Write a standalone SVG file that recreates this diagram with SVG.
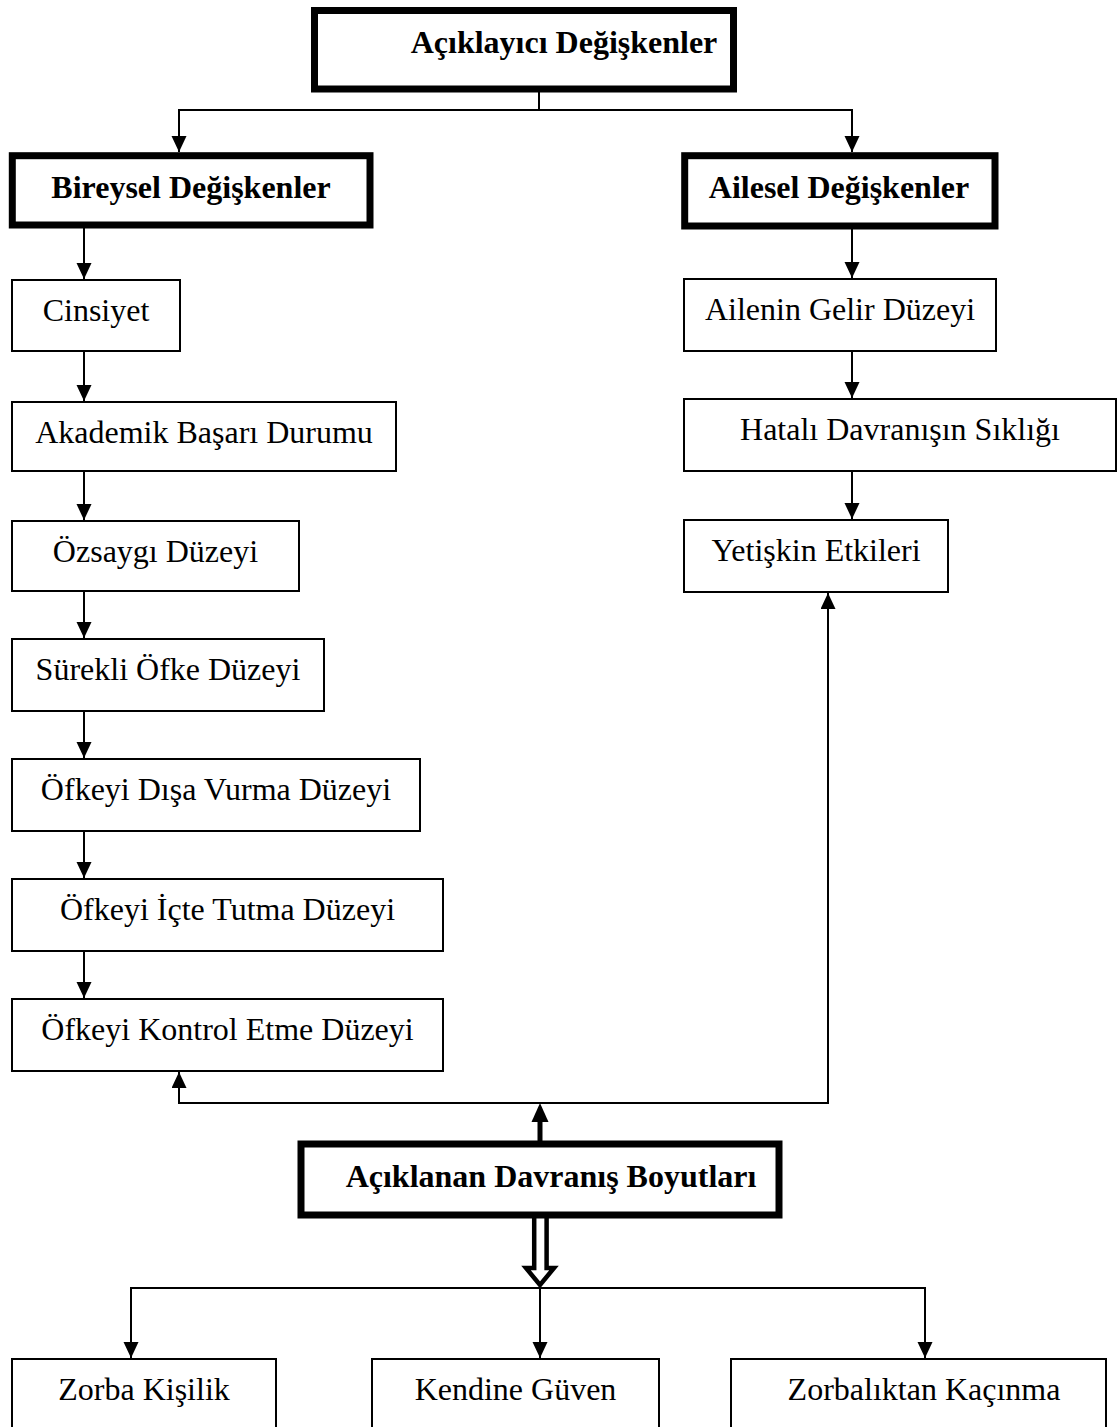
<svg xmlns="http://www.w3.org/2000/svg" width="1119" height="1427" viewBox="0 0 1119 1427">
<defs>
<style>
.box{fill:#fff;stroke:#000;stroke-width:2}
.tbox{fill:#fff;stroke:#000;stroke-width:7}
.t{font-family:"Liberation Serif","Times New Roman",serif;font-size:32px;text-anchor:middle;fill:#000}
.b{font-weight:bold}
.ln{fill:none;stroke:#000;stroke-width:2}
</style>
<marker id="ah" markerUnits="userSpaceOnUse" markerWidth="16" markerHeight="16" refX="16" refY="7.5" orient="auto">
<path d="M0,0 L16,7.5 L0,15 z" fill="#000"/>
</marker>
</defs>
<rect width="1119" height="1427" fill="#fff"/>
<g id="connectors">
<path class="ln" d="M539 92 V110 M178 110 H853"/>
<path class="ln" d="M179 110 V152" marker-end="url(#ah)"/>
<path class="ln" d="M852 110 V152" marker-end="url(#ah)"/>
<path class="ln" d="M84 228 V279" marker-end="url(#ah)"/>
<path class="ln" d="M84 351 V401" marker-end="url(#ah)"/>
<path class="ln" d="M84 471 V520" marker-end="url(#ah)"/>
<path class="ln" d="M84 591 V638" marker-end="url(#ah)"/>
<path class="ln" d="M84 711 V758" marker-end="url(#ah)"/>
<path class="ln" d="M84 831 V878" marker-end="url(#ah)"/>
<path class="ln" d="M84 951 V998" marker-end="url(#ah)"/>
<path class="ln" d="M852 229 V278" marker-end="url(#ah)"/>
<path class="ln" d="M852 351 V398" marker-end="url(#ah)"/>
<path class="ln" d="M852 471 V519" marker-end="url(#ah)"/>
<path class="ln" d="M178 1103 H829"/>
<path class="ln" d="M179 1103 V1072" marker-end="url(#ah)"/>
<path class="ln" d="M828 1103 V593" marker-end="url(#ah)"/>
<path d="M540 1142 V1118" fill="none" stroke="#000" stroke-width="5"/>
<polygon points="531.5,1122 548.5,1122 540,1103" fill="#000"/>
<path d="M534.2 1218 V1268 H526 L540 1285 L554 1268 H546.6 V1218" fill="#fff" stroke="#000" stroke-width="4.5"/>
<path class="ln" d="M130 1288 H926"/>
<path class="ln" d="M131 1288 V1358" marker-end="url(#ah)"/>
<path class="ln" d="M540 1288 V1358" marker-end="url(#ah)"/>
<path class="ln" d="M925 1288 V1358" marker-end="url(#ah)"/>
</g>
<g id="n-aciklayici"><rect class="tbox" x="314.5" y="10.5" width="419" height="78.5"/><text class="t b" x="564" y="53">Açıklayıcı Değişkenler</text></g>
<g id="n-bireysel"><rect class="tbox" x="12.3" y="155.7" width="357.7" height="69.3"/><text class="t b" x="191" y="198">Bireysel Değişkenler</text></g>
<g id="n-ailesel"><rect class="tbox" x="684.7" y="155.7" width="310.3" height="70.3"/><text class="t b" x="839" y="198">Ailesel Değişkenler</text></g>
<g id="n-cinsiyet"><rect class="box" x="12" y="280" width="168" height="71"/><text class="t" x="96" y="321">Cinsiyet</text></g>
<g id="n-akademik"><rect class="box" x="12" y="402" width="384" height="69"/><text class="t" x="204" y="443">Akademik Başarı Durumu</text></g>
<g id="n-ozsaygi"><rect class="box" x="12" y="521" width="287" height="70"/><text class="t" x="155.5" y="562">Özsaygı Düzeyi</text></g>
<g id="n-surekli"><rect class="box" x="12" y="639" width="312" height="72"/><text class="t" x="168" y="680">Sürekli Öfke Düzeyi</text></g>
<g id="n-disa"><rect class="box" x="12" y="759" width="408" height="72"/><text class="t" x="216" y="800">Öfkeyi Dışa Vurma Düzeyi</text></g>
<g id="n-icte"><rect class="box" x="12" y="879" width="431" height="72"/><text class="t" x="227.5" y="920">Öfkeyi İçte Tutma Düzeyi</text></g>
<g id="n-kontrol"><rect class="box" x="12" y="999" width="431" height="72"/><text class="t" x="227.5" y="1040">Öfkeyi Kontrol Etme Düzeyi</text></g>
<g id="n-gelir"><rect class="box" x="684" y="279" width="312" height="72"/><text class="t" x="840" y="320">Ailenin Gelir Düzeyi</text></g>
<g id="n-hatali"><rect class="box" x="684" y="399" width="432" height="72"/><text class="t" x="900" y="440">Hatalı Davranışın Sıklığı</text></g>
<g id="n-yetiskin"><rect class="box" x="684" y="520" width="264" height="72"/><text class="t" x="816" y="561">Yetişkin Etkileri</text></g>
<g id="n-aciklanan"><rect class="tbox" x="301" y="1144" width="478" height="71"/><text class="t b" x="551" y="1187">Açıklanan Davranış Boyutları</text></g>
<g id="n-zorba"><rect class="box" x="12" y="1359" width="264" height="80"/><text class="t" x="144" y="1400">Zorba Kişilik</text></g>
<g id="n-kendine"><rect class="box" x="372" y="1359" width="287" height="80"/><text class="t" x="515.5" y="1400">Kendine Güven</text></g>
<g id="n-kacinma"><rect class="box" x="731" y="1359" width="375" height="80"/><text class="t" x="924" y="1400">Zorbalıktan Kaçınma</text></g>
</svg>
